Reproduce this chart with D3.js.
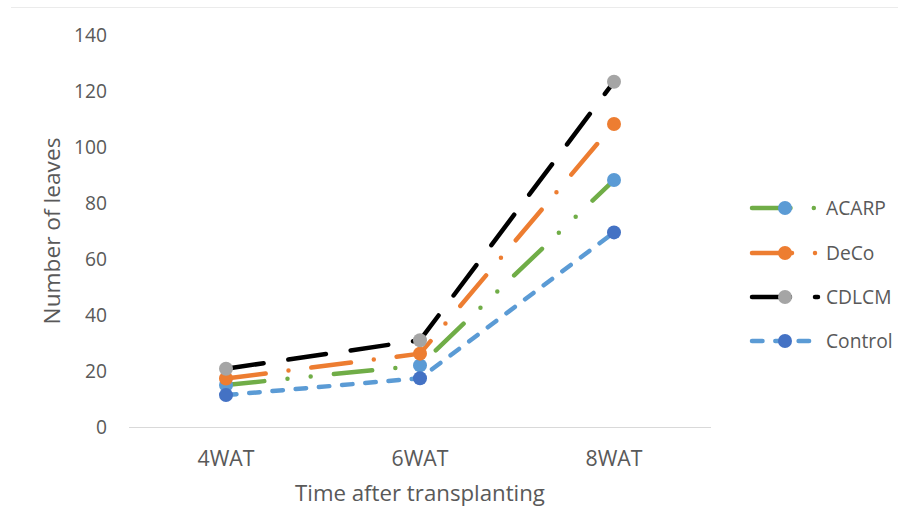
<!DOCTYPE html>
<html><head><meta charset="utf-8">
<script src="https://cdn.jsdelivr.net/npm/d3@7"></script>
<style>
body{margin:0;background:#fff}
svg text{font-family:"Open Sans",sans-serif;fill:#595959}
</style>
</head><body>
<svg id="c" width="898" height="512"></svg>
<script>
const categories = ["4WAT", "6WAT", "8WAT"];
const seriesNames = ["ACARP", "DeCo", "CDLCM", "Control"];
const acarp = [15, 22, 88.2];
const deco = [17.3, 26.2, 108.2];
const cdlcm = [20.8, 31, 123.3];
const control = [11.4, 17.4, 69.5];
const yTicks = [0, 20, 40, 60, 80, 100, 120, 140];
const xTitle = "Time after transplanting";
const yTitle = "Number of leaves";

const seriesValues = [acarp, deco, cdlcm, control];
const styles = [
  {line: "#70AD47", marker: "#5B9BD5", dash: "38.5,23.3,0,23.3,0,23.3"},
  {line: "#ED7D31", marker: "#ED7D31", dash: "40,23,0,23"},
  {line: "#000000", marker: "#A5A5A5", dash: "38,25"},
  {line: "#5B9BD5", marker: "#4472C4", dash: "10.5,12.8"}
];

const svg = d3.select("#c");

function fit(sel, target) {
  sel.style("font-size", "20px");
  const w = sel.node().getComputedTextLength();
  const fs = 20 * target / w;
  sel.style("font-size", fs + "px");
  return fs;
}

// outer border (top edge visible)
svg.append("line").attr("x1", 11).attr("x2", 898).attr("y1", 7.5).attr("y2", 7.5)
  .attr("stroke", "#EBEBEB").attr("stroke-width", 1);

const y = d3.scaleLinear().domain([0, 140]).range([427, 35]);
const xb = d3.scaleBand().domain(categories).range([129, 711]).padding(0);
const xc = (c) => xb(c) + xb.bandwidth() / 2;

// y axis labels
const gy = svg.append("g").attr("transform", "translate(107,0)")
  .call(d3.axisLeft(y).tickValues(yTicks).tickSize(0).tickPadding(0));
gy.select(".domain").remove();
gy.attr("font-family", null).attr("font-size", null);
const tickFs = fit(gy.selectAll(".tick text").filter((d) => d === 140), 33);
gy.selectAll(".tick text").style("font-size", tickFs + "px").attr("dy", "0.36em")
  .attr("fill", "#595959");

// x axis line
svg.append("line").attr("x1", 129).attr("x2", 711).attr("y1", 427.5).attr("y2", 427.5)
  .attr("stroke", "#D9D9D9").attr("stroke-width", 1);

// x axis labels
const gx = svg.append("g").attr("transform", "translate(0,427)")
  .call(d3.axisBottom(xb).tickSize(0));
gx.select(".domain").remove();
gx.attr("font-family", null).attr("font-size", null);
const xFs = fit(gx.selectAll(".tick text").filter((d) => d === "4WAT"), 57);
gx.selectAll(".tick text").style("font-size", xFs + "px").attr("y", 39).attr("dy", 0)
  .attr("fill", "#595959");

// titles
const xt = svg.append("text").attr("x", 420).attr("y", 501).attr("text-anchor", "middle").text(xTitle);
fit(xt, 250);
const yt = svg.append("text").attr("transform", "translate(60,231) rotate(-90)")
  .attr("text-anchor", "middle").text(yTitle);
fit(yt, 187);

// series
const line = d3.line().x((d, i) => xc(categories[i])).y((d) => y(d));
seriesValues.forEach((vals, si) => {
  const st = styles[si];
  const g = svg.append("g");
  g.append("path").datum(vals).attr("d", line).attr("fill", "none")
    .attr("stroke", st.line).attr("stroke-width", 4.5)
    .attr("stroke-linecap", "round").attr("stroke-linejoin", "round")
    .attr("stroke-dasharray", st.dash);
  g.selectAll("circle").data(vals).join("circle")
    .attr("cx", (d, i) => xc(categories[i])).attr("cy", (d) => y(d))
    .attr("r", 7).attr("fill", st.marker);
});

// legend
const legY = [208, 253, 297, 341];
seriesNames.forEach((name, si) => {
  const st = styles[si];
  const g = svg.append("g").attr("transform", `translate(0,${legY[si]})`);
  g.append("line").attr("x1", 752).attr("x2", 818).attr("y1", 0).attr("y2", 0)
    .attr("stroke", st.line).attr("stroke-width", 4.5)
    .attr("stroke-linecap", "round").attr("stroke-dasharray", st.dash);
  g.append("circle").attr("cx", 785).attr("cy", 0).attr("r", 7).attr("fill", st.marker);
  const t = g.append("text").attr("x", 826).attr("y", 0).attr("dy", "0.36em").text(name);
  t.style("font-size", tickFs + "px");
});
</script>
</body></html>
